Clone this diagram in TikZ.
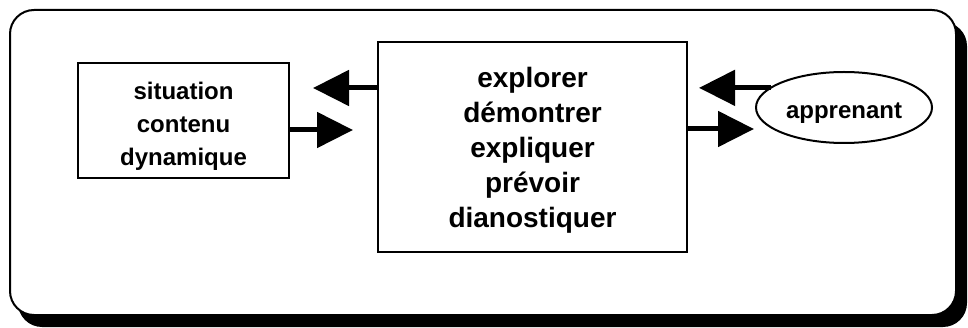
\documentclass[tikz,border=0pt]{standalone}
\usepackage{fontspec}
\setmainfont{Liberation Sans}
\usetikzlibrary{arrows.meta,shapes.geometric}
\begin{document}
\begin{tikzpicture}[x=1pt,y=-1pt,
  box/.style={draw, line width=2pt, fill=white, inner sep=0pt, outer sep=0pt},
  txt/.style={inner sep=0pt, align=center},
  smalltxt/.style={font=\bfseries\fontsize{24}{33}\selectfont},
  bigtxt/.style={font=\bfseries\fontsize{28}{35}\selectfont},
  arr/.style={line width=5pt, -{Triangle[length=36pt,width=35pt]}},
]
\useasboundingbox (0,0) rectangle (968,328);
\fill[black, rounded corners=24pt] (18,22) rectangle (967,327);
\draw[line width=2pt, fill=white, rounded corners=24pt] (10,10) rectangle (956,315);

\node[box, minimum width=211pt, minimum height=115pt] (left) at (183.5,120.5) {};
\node[box, minimum width=309pt, minimum height=210pt] (mid) at (532.5,147) {};
\node[box, ellipse, minimum width=176pt, minimum height=71pt] (app) at (844,107.5) {};

\node[txt, smalltxt] (leftT) at ([yshift=-6pt]left.center) {situation\\contenu\\dynamique};
\node[txt, bigtxt] (midT) at ([yshift=-3pt]mid.center) {explorer\\démontrer\\expliquer\\prévoir\\dianostiquer};
\node[txt, smalltxt] (appT) at ([yshift=-6pt]app.center) {apprenant};

\coordinate (tA) at (313,88);
\coordinate (tB) at (353,130);
\coordinate (tC) at (699,88);
\coordinate (tD) at (754,129);

\draw[arr] (mid.west |- tA) -- (tA);
\draw[arr] (left.east |- tB) -- (tB);
\draw[arr] (app.165) -- (tC |- app.165);
\draw[arr] (mid.east |- tD) -- (tD);
\end{tikzpicture}
\end{document}
